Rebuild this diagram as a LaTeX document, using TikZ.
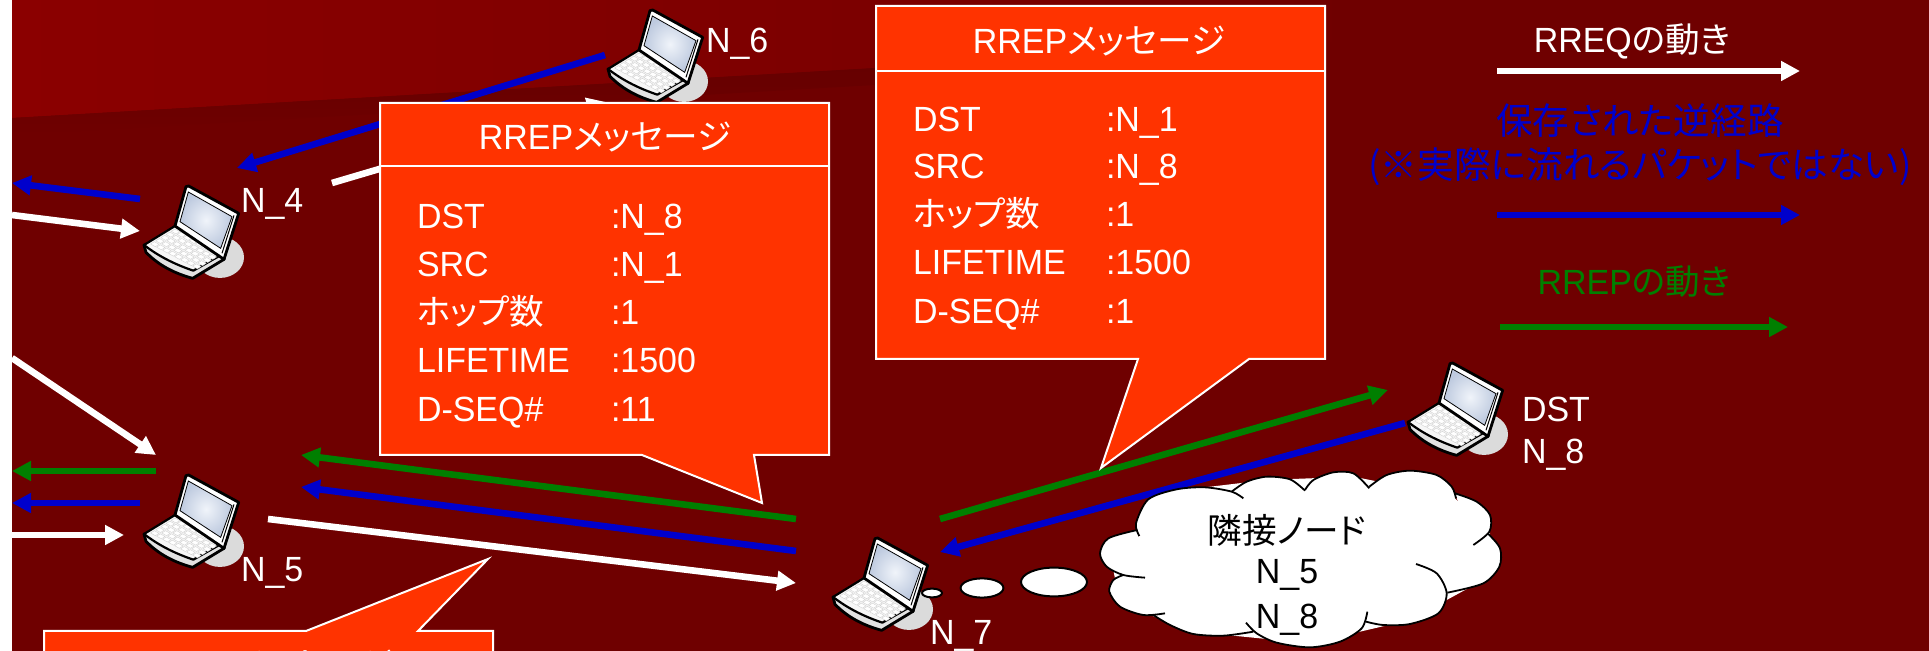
\documentclass[tikz,border=0pt]{standalone}
\usepackage{fontspec}
\setmainfont[FakeStretch=0.97]{Liberation Sans}
\newfontfamily\cjk[RawFeature={+palt},Scale=0.99]{Noto Sans CJK JP}
\usetikzlibrary{arrows.meta}
\newcommand{\J}[1]{{\cjk #1}}
\definecolor{bgdark}{HTML}{6F0000}
\definecolor{bglight}{HTML}{8B0000}
\definecolor{bgmid}{HTML}{7C0000}
\definecolor{bgband}{HTML}{660000}
\definecolor{callfill}{HTML}{FF3300}
\definecolor{blueline}{HTML}{0000CC}
\definecolor{greenline}{HTML}{007F00}
\definecolor{glassin}{HTML}{F0F4FA}
\definecolor{glassout}{HTML}{BECADF}
\tikzset{
  x=0.5pt,y=-0.5pt,
  txt/.style={font=\fontsize{17.5}{21}\selectfont,text=white,inner sep=0pt,outer sep=0pt},
  rowtxt/.style={txt,anchor=base west},
  bluetxt/.style={txt,font=\fontsize{18.5}{22}\selectfont,text=blueline},
  arrbase/.style={line width=3.3pt,-{Triangle[length=9.5pt,width=9.5pt]}},
  warr/.style={arrbase,draw=white},
  barr/.style={arrbase,draw=blueline},
  garr/.style={arrbase,draw=greenline},
  callbox/.style={draw=white,line width=1pt,fill=callfill,line join=miter},
  calldiv/.style={draw=white,line width=1pt},
  pics/laptop/.style={code={
    \begin{scope}[x=0.16667pt,y=-0.16667pt]
      \fill[gray!28] (270,262) ellipse [x radius=12pt,y radius=10.3pt];
      % base side
      \draw[black,line width=1.4pt,line join=round,fill=gray!22]
        (42,225) -- (48,247) .. controls (90,290) and (140,312) .. (188,325) -- (282,268) -- (285,250) -- cycle;
      % deck
      \draw[black,line width=1.1pt,line join=round,fill=gray!6]
        (135,168) -- (42,225) .. controls (90,262) and (140,285) .. (190,302) -- (282,250) -- cycle;
      \foreach \i in {0,...,7}{\foreach \j in {0,...,4}{
        \pgfmathsetmacro{\px}{62+\i*18+\j*15.5}
        \pgfmathsetmacro{\py}{222+\i*9.5-\j*9.5}
        \draw[gray!35,line width=0.2pt,fill=white]
          (\px,\py) -- ++(14,8) -- ++(11,-7) -- ++(-14,-8) -- cycle;
      }}
      % screen
      \draw[black,line width=1.4pt,line join=round,fill=white]
        (135,168) -- (168,50) -- (176,48) -- (326,130) -- (282,268) -- cycle;
      \draw[black,line width=0.5pt] (312,136) -- (276,250);
      \shade[inner color=glassin,outer color=glassout,draw=black,line width=0.4pt]
        (175,66) -- (306,140) -- (272,235) -- (150,155) -- cycle;
    \end{scope}
  }},
}
\newcommand{\cloudlobes}[1]{%
  \path[#1] plot[smooth] coordinates {(148,228) (138,190) (175,118) (260,88) (345,82) (425,95) (460,115)};
  \path[#1] plot[smooth] coordinates {(425,95) (470,65) (530,50) (600,58) (645,92)};
  \path[#1] plot[smooth] coordinates {(645,90) (670,60) (730,37) (790,40) (838,85)};
  \path[#1] plot[smooth] coordinates {(838,80) (890,45) (960,32) (1040,45) (1085,80) (1098,115)};
  \path[#1] plot[smooth] coordinates {(1095,100) (1160,125) (1200,165) (1198,215) (1150,255)};
  \path[#1] plot[smooth] coordinates {(1195,222) (1230,265) (1228,320) (1180,370) (1072,398)};
  \path[#1] plot[smooth] coordinates {(978,312) (1040,340) (1070,400) (1045,460) (960,492) (880,495) (828,485)};
  \path[#1] plot[smooth] coordinates {(832,455) (815,505) (750,545) (660,562) (560,548) (500,520) (468,488)};
  \path[#1] plot[smooth] coordinates {(490,515) (400,527) (310,522) (240,495) (190,465)};
  \path[#1] plot[smooth] coordinates {(225,460) (160,465) (90,440) (58,395) (70,360) (100,345)};
  \path[#1] plot[smooth] coordinates {(165,353) (100,345) (50,320) (30,280) (55,235) (142,210)};
}
\begin{document}
\begin{tikzpicture}
\useasboundingbox (0,0) rectangle (1929,651);
\clip (0,0) rectangle (1929,651);
% background
\fill[white] (0,0) rectangle (1929,651);
\fill[bgdark] (12,0) rectangle (1929,651);
\shade[left color=bglight,right color=bgmid] (12,0) -- (860,0) -- (860,69) -- (12,118) -- cycle;
\shade[left color=bgmid,right color=bgdark] (860,0) -- (1350,0) -- (1350,41) -- (860,69) -- cycle;
\shade[top color=bgband,bottom color=bgdark] (12,118) -- (875,68) -- (875,85) -- (12,135) -- cycle;
% arrow end points
\coordinate (b64s) at (605,55);   \coordinate (b64e) at (237,168);
\coordinate (w46s) at (332,183);  \coordinate (w46e) at (606,102);
\coordinate (b4ls) at (140,199);  \coordinate (b4le) at (12,183);
\coordinate (w4ls) at (12,215);   \coordinate (w4le) at (140,231);
\coordinate (w5ts) at (12,358);   \coordinate (w5te) at (156,455);
\coordinate (g5ls) at (156,471);  \coordinate (g5le) at (12,471);
\coordinate (b5ls) at (140,503);  \coordinate (b5le) at (12,503);
\coordinate (w5ls) at (12,535);   \coordinate (w5le) at (124,535);
\coordinate (w57s) at (268,519);  \coordinate (w57e) at (796,583);
\coordinate (g75s) at (796,519);  \coordinate (g75e) at (301,455);
\coordinate (b75s) at (796,551);  \coordinate (b75e) at (301,487);
\coordinate (g78s) at (940,519);  \coordinate (g78e) at (1388,390);
\coordinate (b87s) at (1405,423); \coordinate (b87e) at (940,552);
\coordinate (lw1) at (1497,71);   \coordinate (lw2) at (1800,71);
\coordinate (lb1) at (1497,215);  \coordinate (lb2) at (1800,215);
\coordinate (lg1) at (1500,327);  \coordinate (lg2) at (1788,327);
% connectors
\draw[barr] (b64s) -- (b64e);
\draw[warr] (w46s) -- (w46e);
\draw[barr] (b4ls) -- (b4le);
\draw[warr] (w4ls) -- (w4le);
\draw[warr] (w5ts) -- (w5te);
\draw[garr] (g5ls) -- (g5le);
\draw[barr] (b5ls) -- (b5le);
\draw[warr] (w5ls) -- (w5le);
\draw[warr] (w57s) -- (w57e);
\draw[garr] (g75s) -- (g75e);
\draw[barr] (b75s) -- (b75e);
\draw[garr] (g78s) -- (g78e);
\draw[barr] (b87s) -- (b87e);
\draw[warr] (lw1) -- (lw2);
\draw[barr] (lb1) -- (lb2);
\draw[garr] (lg1) -- (lg2);
% laptops
\pic at (594,-6) {laptop};
\pic at (130,170) {laptop};
\pic at (130,459) {laptop};
\pic at (819,522) {laptop};
\pic at (1394,347) {laptop};
% node labels
\node[rowtxt] (n6) at (706,53) {N\_6};
\node[rowtxt] (n4) at (241,213) {N\_4};
\node[rowtxt] (n5) at (241,582) {N\_5};
\node[rowtxt] (n7) at (930,645) {N\_7};
\node[rowtxt] (dst) at (1522,422) {DST};
\node[rowtxt] (n8) at (1522,464) {N\_8};
% callout 1
\draw[callbox] (380,103) -- (829,103) -- (829,455) -- (754,455) -- (762,503) -- (642,455) -- (380,455) -- cycle;
\draw[calldiv] (380,166) -- (829,166);
\node[txt] (c1t) at (605,137) {RREP\J{メッセージ}};
\node[rowtxt] (c1a) at (417,229) {DST};      \node[rowtxt] (c1av) at (611,229) {:N\_8};
\node[rowtxt] (c1b) at (417,277) {SRC};      \node[rowtxt] (c1bv) at (611,277) {:N\_1};
\node[rowtxt] (c1c) at (417,325) {\J{ホップ数}}; \node[rowtxt] (c1cv) at (611,325) {:1};
\node[rowtxt] (c1d) at (417,373) {LIFETIME}; \node[rowtxt] (c1dv) at (611,373) {:1500};
\node[rowtxt] (c1e) at (417,422) {D-SEQ\#};  \node[rowtxt] (c1ev) at (611,422) {:11};
% callout 2
\draw[callbox] (876,6) -- (1325,6) -- (1325,359) -- (1249,359) -- (1101,468) -- (1138,359) -- (876,359) -- cycle;
\draw[calldiv] (876,71) -- (1325,71);
\node[txt] (c2t) at (1099,41) {RREP\J{メッセージ}};
\node[rowtxt] (c2a) at (913,132) {DST};      \node[rowtxt] (c2av) at (1106,132) {:N\_1};
\node[rowtxt] (c2b) at (913,179) {SRC};      \node[rowtxt] (c2bv) at (1106,179) {:N\_8};
\node[rowtxt] (c2c) at (913,227) {\J{ホップ数}}; \node[rowtxt] (c2cv) at (1106,227) {:1};
\node[rowtxt] (c2d) at (913,275) {LIFETIME}; \node[rowtxt] (c2dv) at (1106,275) {:1500};
\node[rowtxt] (c2e) at (913,324) {D-SEQ\#};  \node[rowtxt] (c2ev) at (1106,324) {:1};
% callout 3
\draw[callbox] (44,700) -- (44,631) -- (306,631) -- (488,559) -- (418,631) -- (493,631) -- (493,700) -- cycle;
\node[txt] (c3t) at (268,665.5) {RREP\J{メッセージ}};
% thought bubble
\draw[black,line width=1pt,fill=white] (932,593) ellipse [x radius=5pt,y radius=2.2pt];
\draw[black,line width=1pt,fill=white] (982,588) ellipse [x radius=10.7pt,y radius=4.8pt];
\draw[black,line width=1pt,fill=white] (1054,582) ellipse [x radius=16.5pt,y radius=7.2pt];
\begin{scope}[shift={(1090,460)},x=0.16667pt,y=-0.16667pt]
  \fill[white] (148,228) -- (345,82) -- (530,60) -- (790,50) -- (1090,110) -- (1200,220) -- (1180,360) -- (960,480) -- (660,550) -- (310,515) -- (90,430) -- (60,280) -- cycle;
  \cloudlobes{fill=white}
  \cloudlobes{draw=black,line width=0.9pt}
\end{scope}
\node[txt,text=black] (cl1) at (1287,530) {\J{隣接ノード}};
\node[txt,text=black] (cl2) at (1287,575) {N\_5};
\node[txt,text=black] (cl3) at (1287,620) {N\_8};
% legend text
\node[txt] (l1) at (1632,41) {RREQ\J{の動き}};
\node[bluetxt] (l2) at (1640,121) {\J{保存された逆経路}};
\node[bluetxt] (l3) at (1640,167) {\J{(※実際に流れるパケットではない)}};
\node[txt,text=greenline] (l4) at (1634,282) {RREP\J{の動き}};
\end{tikzpicture}
\end{document}
